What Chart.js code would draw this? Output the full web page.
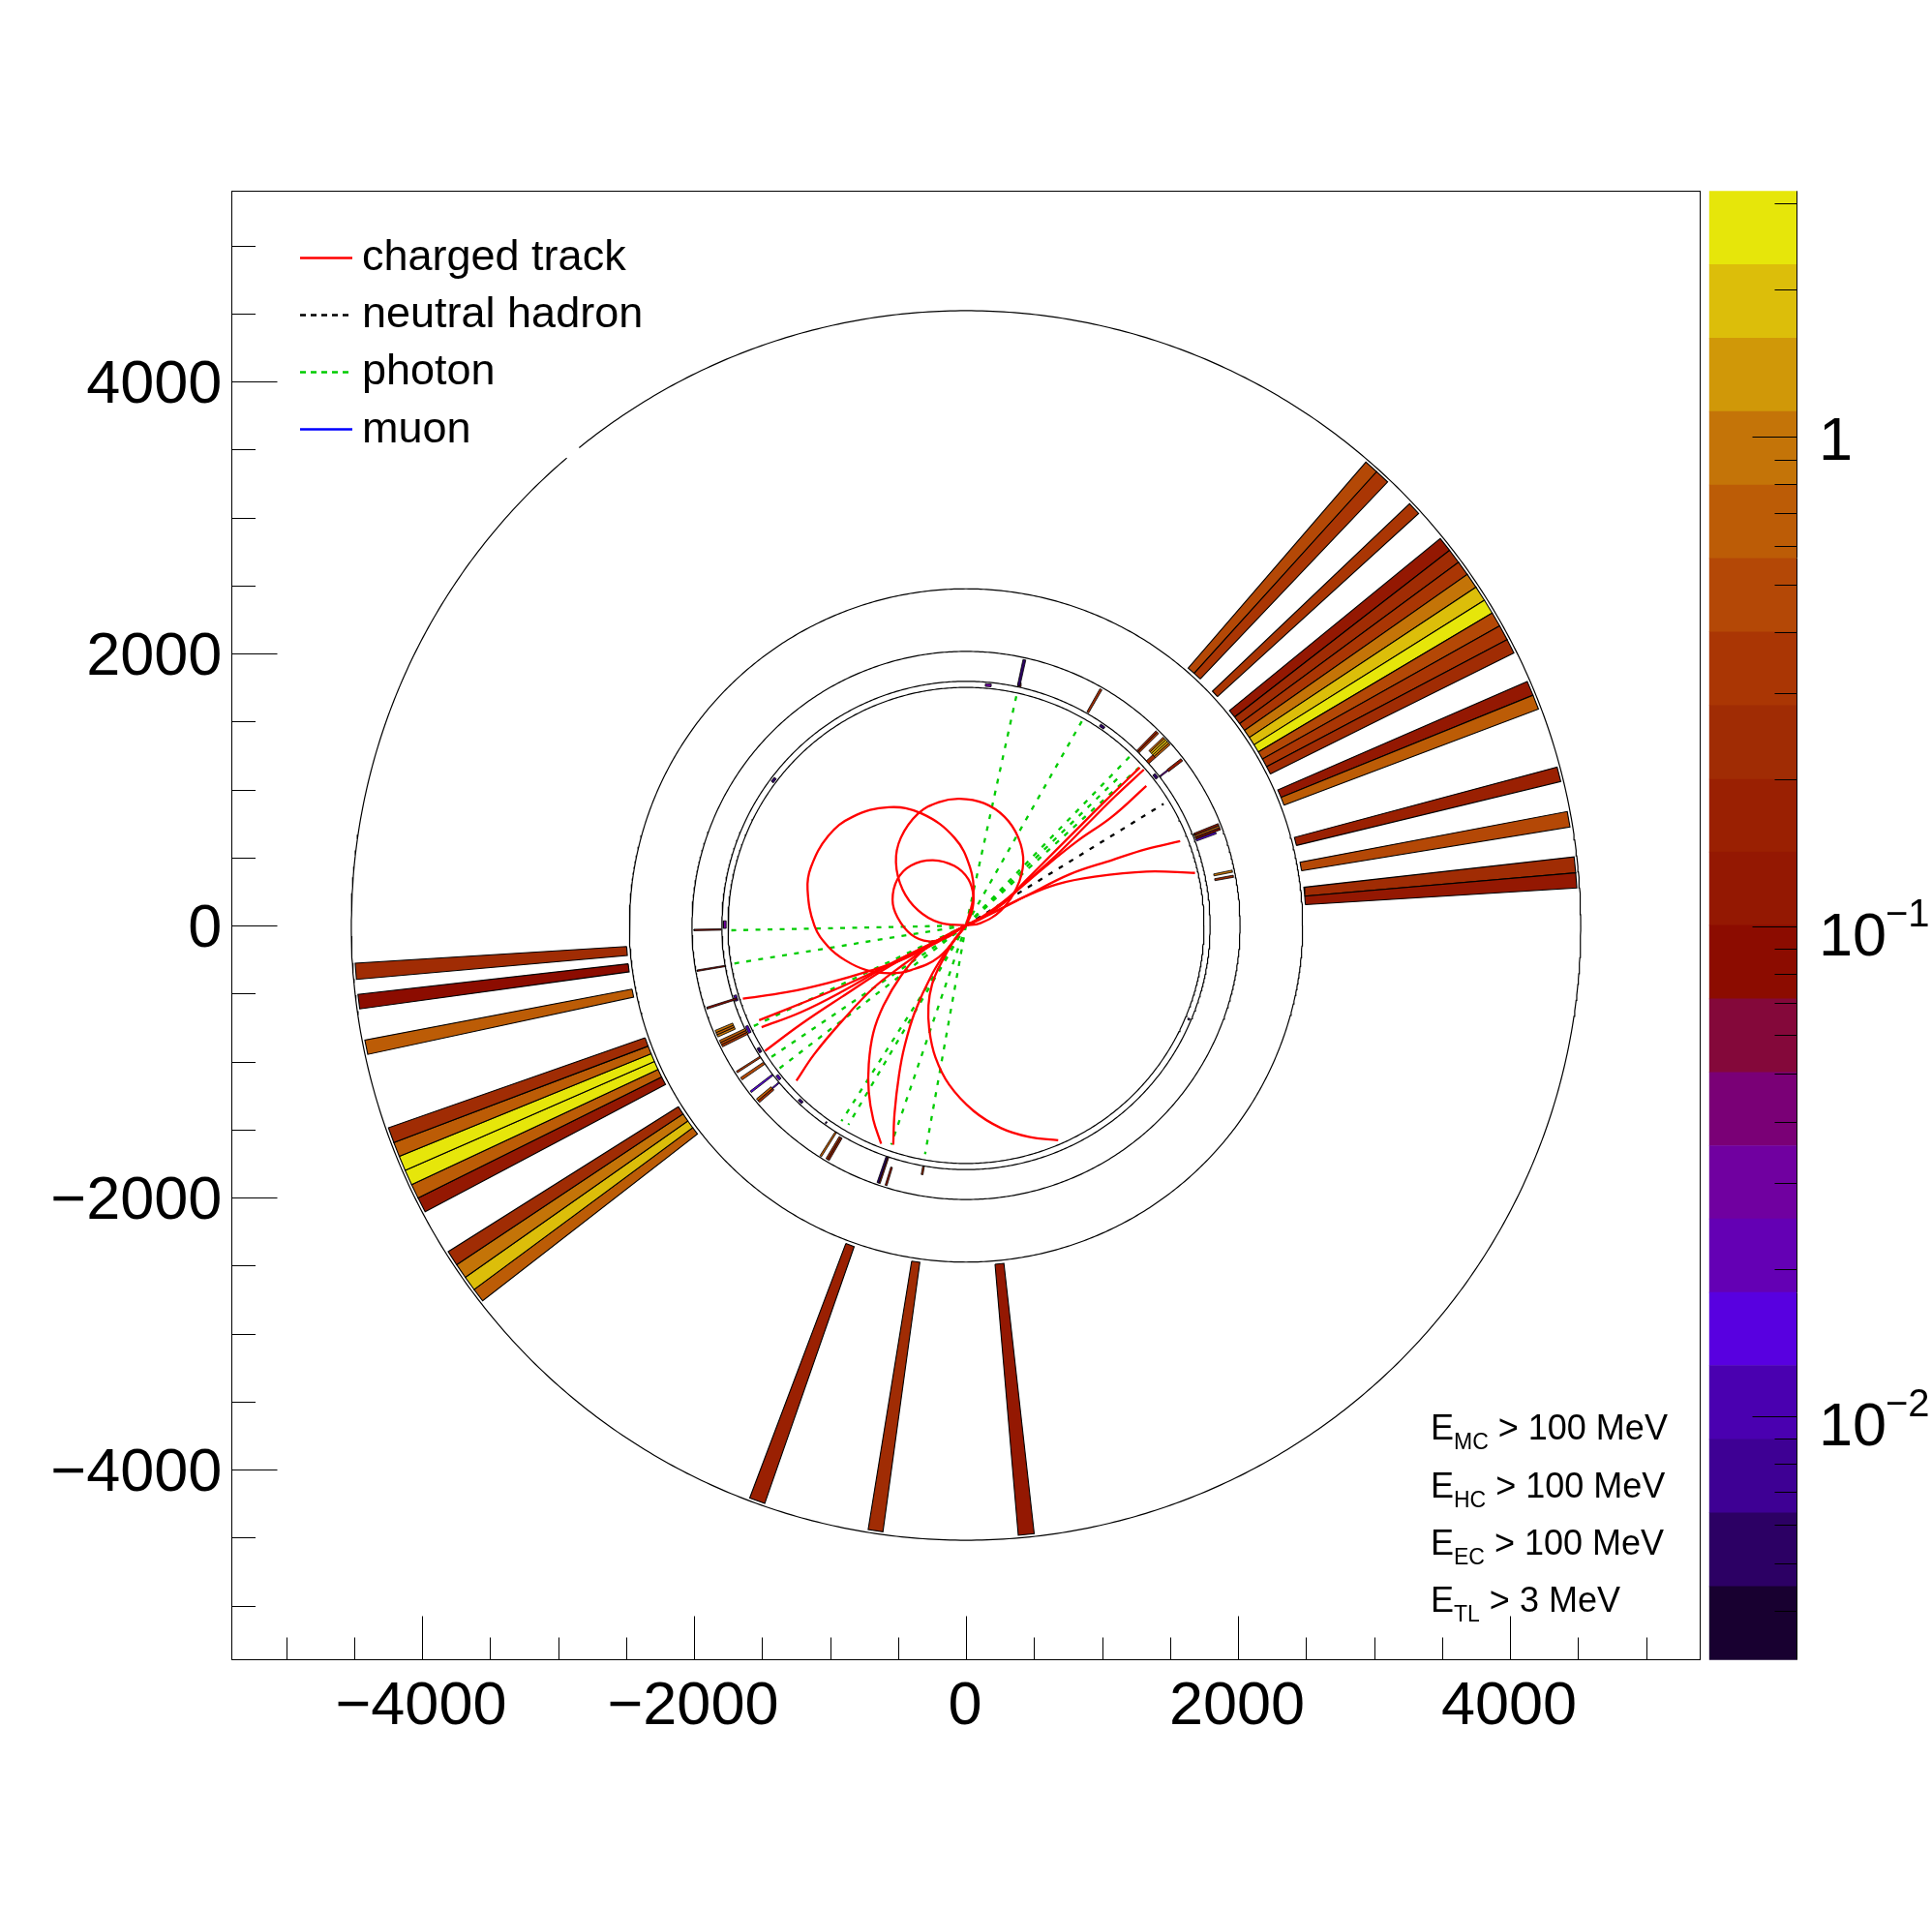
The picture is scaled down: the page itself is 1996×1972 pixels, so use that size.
<!DOCTYPE html>
<html>
<head>
<meta charset="utf-8">
<title>Event display</title>
<script src="https://cdn.jsdelivr.net/npm/chart.js@4"></script>
<style>
html,body{margin:0;padding:0;background:#fff}
#wrap{position:relative;width:1996px;height:1972px;overflow:hidden}
canvas{position:absolute;display:block}
</style>
</head>
<body>
<div id="wrap">
<canvas id="main" width="1996" height="1972" style="left:0;top:0;width:1996px;height:1972px"></canvas>
<canvas id="pal" width="256" height="1972" style="left:1740px;top:0;width:256px;height:1972px"></canvas>
</div>
<script>
// ---------- axis ----------
const axisMin = -5400, axisMax = 5400, labelStep = 2000;
const axisTicks = [-5000,-4500,-4000,-3500,-3000,-2500,-2000,-1500,-1000,-500,0,500,1000,1500,2000,2500,3000,3500,4000,4500,5000];

// ---------- detector rings (radius) ----------
const ringRadii = [1750, 1795, 2015, 2475];
const outerRingRadius = 4520;
const outerRingGapDeg = [129, 130.5];

// ---------- colour palette, low to high ----------
const zLevels = [0.00318,0.00449,0.00635,0.00897,0.0127,0.0179,0.0253,0.0357,0.0504,0.0712,0.1006,0.142,0.2,0.283,0.4,0.565,0.798,1.127,1.592,2.25,3.18];
const zColors = ['#180030','#2c0064','#3e0094','#4a00b0','#5800e0','#6400b4','#7000a0','#7a0076','#84083a','#8c0c00','#941802','#9a2002','#a02c04','#aa3604','#b44806','#bc5c06','#c47408','#d09808','#dcbe0a','#e6e60a'];
const zTicks = [3,2,1,0.9,0.8,0.7,0.6,0.5,0.4,0.3,0.2,0.1,0.09,0.08,0.07,0.06,0.05,0.04,0.03,0.02,0.01,0.009,0.008,0.007,0.006,0.005,0.004];
const zMajor = [1,0.1,0.01];

// ---------- HCAL cells: phi edges (deg) and energy ----------
const hcalRadius = [2500, 4500];
const hcalPhi = [
 [46.45,47.85,49.2],
 [42.3,43.55],
 [26.45,27.85,29.3,30.7,32.1,33.55,35.0,36.4,37.8,39.2],
 [20.7,22.1,23.5],
 [13.6,15.0],
 [9.26,10.73],
 [3.51,4.93,6.44],
 [183.54,185.06],
 [186.47,187.84],
 [190.79,192.16],
 [199.3,200.78,202.17,203.58,205.05,206.45,207.9],
 [212.2,213.66,215.1,216.5,217.83],
 [249.3,250.8],
 [260.8,262.2],
 [274.9,276.4]
];
const hcalE = [
 [0.335,0.475],
 [0.335],
 [0.24,0.335,0.475,2.7,1.9,0.95,0.335,0.24,0.12],
 [0.67,0.12],
 [0.17],
 [0.475],
 [0.12,0.24],
 [0.24],
 [0.085],
 [0.67],
 [0.24,0.67,2.7,2.7,0.67,0.12],
 [0.24,0.95,1.9,0.67],
 [0.17],
 [0.24],
 [0.12]
];

// ---------- ECAL cells: phi low, phi high, r in, r out, energy ----------
const ecalCells = [
 [77.3,77.9,1805,2000,0.0053],[77.2,77.8,1800,1830,0.17],
 [60.0,60.5,1805,2000,0.24],
 [44.9,45.3,1800,2000,0.335],[45.3,45.7,1800,2000,0.17],
 [41.5,42.4,1795,1860,0.24],
 [41.5,41.95,1860,2005,0.67],[41.95,42.4,1860,2005,1.35],[42.4,42.85,1860,2005,1.9],[42.85,43.3,1860,2005,1.35],[43.3,43.7,1860,2005,0.67],
 [37.4,37.7,1800,1870,0.03],[37.2,37.8,1870,2000,0.12],
 [21.6,22.0,1805,2000,0.12],[21.1,21.5,1805,2000,0.67],[20.6,21.0,1805,2000,0.085],[20.1,20.5,1805,1960,0.015],
 [11.3,11.75,1860,2000,0.95],[10.2,10.65,1860,2000,0.24],
 [180.8,181.1,1800,2000,0.085],
 [189.4,189.7,1795,2005,0.085],
 [197.5,197.9,1770,2000,0.1],
 [202.7,203.2,1860,2000,0.95],[203.2,203.7,1860,2000,0.67],[203.7,204.2,1860,2000,0.95],
 [205.0,205.5,1790,2000,0.67],[205.5,206.0,1790,2000,0.475],[206.0,206.5,1790,2000,0.335],
 [212.4,212.8,1795,2000,0.335],
 [214.0,214.6,1800,2000,0.475],
 [217.5,217.9,1800,2000,0.015],
 [219.6,220.1,1860,2000,0.67],[220.1,220.6,1860,2000,0.24],[219.9,220.2,1800,1860,0.015],
 [237.6,238.0,1800,2005,0.67],
 [239.0,239.4,1810,2000,0.24],[239.4,239.8,1810,2000,0.17],
 [250.9,251.3,1800,2000,0.0053],[251.3,251.6,1800,2000,0.17],
 [252.7,253.1,1860,2000,0.12],
 [259.8,260.2,1800,1860,0.24]
];

// ---------- tail catcher / tracker hits ----------
const tlCells = [
 [84.0,85.4,1764,1784,0.0253],
 [37.6,38.8,1762,1784,0.0053],
 [55.0,56.2,1762,1782,0.0053],
 [142.3,143.5,1762,1782,0.0053],
 [178.9,180.7,1764,1784,0.0253],
 [196.8,198.2,1764,1784,0.0107],
 [204.6,206.4,1764,1784,0.0107],
 [210.5,211.7,1764,1784,0.0053],
 [218.4,219.6,1764,1784,0.0107],
 [226.2,227.3,1764,1784,0.0053],
 [234.5,234.8,1770,1785,0.0053],
 [337.0,337.4,1770,1785,0.0053]
];

// ---------- charged tracks, read point by point ----------
const trackBigLoop = [[0,0],[55,226],[29,429],[-85,645],[-326,823],[-568,869],[-835,798],[-1013,658],[-1140,429],[-1165,264],[-1114,-3],[-1013,-156],[-886,-257],[-733,-328],[-555,-351],[-403,-328],[-199,-232],[-21,-28]];
const trackMidLoop = [[0,0],[-199,22],[-352,111],[-466,264],[-515,465],[-479,645],[-352,823],[-199,907],[-47,932],[131,899],[284,798],[385,645],[421,465],[373,277],[258,111],[106,17],[0,0]];
const trackSmallLoop = [[0,0],[42,99],[55,213],[17,340],[-85,437],[-243,480],[-403,442],[-504,340],[-540,188],[-504,60],[-403,-67],[-276,-117],[-148,-92],[-47,-28]];
const trackDownRight = [[0,0],[-85,-105],[-199,-308],[-250,-435],[-276,-588],[-270,-766],[-225,-969],[-123,-1172],[55,-1363],[258,-1490],[462,-1554],[678,-1579]];
const trackDownA = [[-624,-1605],[-682,-1427],[-715,-1223],[-715,-1020],[-682,-791],[-606,-588],[-479,-372],[-326,-194],[-148,-79],[0,0]];
const trackDownB = [[-535,-1612],[-525,-1376],[-492,-1096],[-453,-893],[-377,-639],[-250,-359],[-123,-156],[0,0]];
const trackLeftA = [[-1641,-539],[-1318,-491],[-1013,-422],[-708,-334],[-453,-245],[-199,-117],[0,0]];
const trackLeftB = [[-1521,-697],[-1216,-575],[-911,-448],[-581,-295],[-250,-130],[0,0]];
const trackLeftC = [[-1503,-748],[-1216,-639],[-911,-486],[-555,-283],[-250,-130],[0,0]];
const trackLeftD = [[-1478,-923],[-1216,-728],[-911,-524],[-555,-295],[-250,-135],[0,0]];
const trackLeftE = [[-1247,-1142],[-1114,-944],[-911,-702],[-682,-461],[-453,-283],[-199,-105],[0,0]];
const trackUpA = [[0,0],[258,149],[436,327],[640,531],[818,709],[1021,912],[1278,1161]];
const trackUpB = [[0,0],[55,22],[258,162],[436,315],[665,518],[894,747],[1097,950],[1308,1146]];
const trackUpC = [[0,0],[131,60],[309,200],[563,416],[818,620],[1072,798],[1326,1026]];
const trackRightA = [[0,0],[182,86],[436,213],[767,378],[1072,480],[1326,561],[1575,620]];
const trackRightB = [[0,0],[182,86],[436,213],[665,302],[945,358],[1326,396],[1684,386]];
const chargedTracks = [trackBigLoop,trackMidLoop,trackSmallLoop,trackDownRight,trackDownA,trackDownB,trackLeftA,trackLeftB,trackLeftC,trackLeftD,trackLeftE,trackUpA,trackUpB,trackUpC,trackRightA,trackRightB];

// ---------- neutral hadron and photon end points ----------
const neutralEnds = [[1453,894]];
const photonEnds = [[373,1700],[856,1509],[1211,1249],[1149,1114],[1270,1159],[-1750,-36],[-1724,-283],[-1572,-745],[-1445,-977],[-1381,-1058],[-916,-1439],[-865,-1465],[-550,-1612],[-301,-1681]];

// ---------- text ----------
const legendLabels = ['charged track','neutral hadron','photon','muon'];
const cutLabels = [['E','MC','> 100 MeV'],['E','HC','> 100 MeV'],['E','EC','> 100 MeV'],['E','TL','> 3 MeV']];
const FONT = '"Liberation Sans", Arial, sans-serif';

// ---------- helpers ----------
function colorOf(v){
  for(let i=0;i<zColors.length;i++){ if(v<zLevels[i+1]) return zColors[i]; }
  return zColors[zColors.length-1];
}
function pol(r,deg){ const a=deg*Math.PI/180; return {x:r*Math.cos(a),y:r*Math.sin(a)}; }
function cellSet(p1,p2,r1,r2,v,w){
  return {data:[pol(r1,p1),pol(r2,p1),pol(r2,p2),pol(r1,p2),pol(r1,p1)],
    borderColor:'#000',borderWidth:w,backgroundColor:colorOf(v),fill:'shape',
    pointRadius:0,tension:0,order:3};
}
function ringSet(r,gap){
  const pts=[];
  for(let d=0;d<=360;d+=0.5){
    if(gap && d>gap[0] && d<gap[1]){ pts.push({x:null,y:null}); continue; }
    pts.push(pol(r,d));
  }
  return {data:pts,borderColor:'#000',borderWidth:1.2,pointRadius:0,tension:0,fill:false,spanGaps:false,order:4};
}
function toPts(a){ return a.map(p=>({x:p[0],y:p[1]})); }

const datasets=[];
ringRadii.forEach(r=>datasets.push(ringSet(r)));
datasets.push(ringSet(outerRingRadius,outerRingGapDeg));
hcalPhi.forEach((edges,g)=>{
  hcalE[g].forEach((v,i)=>datasets.push(cellSet(edges[i],edges[i+1],hcalRadius[0],hcalRadius[1],v,1.1)));
});
ecalCells.forEach(c=>datasets.push(cellSet(c[0],c[1],c[2],c[3],c[4],0.8)));
tlCells.forEach(c=>datasets.push(cellSet(c[0],c[1],c[2],c[3],c[4],0.8)));
photonEnds.forEach(e=>datasets.push({data:[{x:0,y:0},{x:e[0],y:e[1]}],borderColor:'#00cc00',borderWidth:2.3,borderDash:[5,7.5],pointRadius:0,tension:0,fill:false,order:2}));
neutralEnds.forEach(e=>datasets.push({data:[{x:0,y:0},{x:e[0],y:e[1]}],borderColor:'#000',borderWidth:2.3,borderDash:[5,7.5],pointRadius:0,tension:0,fill:false,order:2}));
chargedTracks.forEach(t=>datasets.push({data:toPts(t),borderColor:'#ff0000',borderWidth:2.3,pointRadius:0,tension:0.4,fill:false,order:1}));

// ---------- main chart decoration ----------
const decor={
  id:'decor',
  afterDatasetsDraw(chart){
    const c=chart.ctx,{left,right,top,bottom}=chart.chartArea,sx=chart.scales.x,sy=chart.scales.y;
    c.save();
    c.strokeStyle='#000';c.lineWidth=1;
    const L=Math.round(left)+0.5,R=Math.floor(right)+0.5,T=Math.round(top)+0.5,B=Math.floor(bottom)+0.5;
    c.strokeRect(L,T,R-L,B-T);
    c.beginPath();
    axisTicks.forEach(v=>{
      const major=(v%labelStep===0);
      const p=Math.round(sx.getPixelForValue(v))+0.5;
      c.moveTo(p,B);c.lineTo(p,B-(major?45:23));
      const q=Math.round(sy.getPixelForValue(v))+0.5;
      c.moveTo(L,q);c.lineTo(L+(major?47:24.5),q);
    });
    c.stroke();
    // legend
    const legendY=[266.5,325.5,384.5,443.5],baseY=[278.5,337.5,396.5,457];
    const legendCol=['#ff0000','#000','#00cc00','#0000ff'],legendDash=[[],[6,5],[6,5],[]];
    legendLabels.forEach((s,i)=>{
      c.beginPath();c.lineWidth=2.5;c.strokeStyle=legendCol[i];c.setLineDash(legendDash[i]);
      c.moveTo(310,legendY[i]);c.lineTo(364,legendY[i]);c.stroke();
      c.setLineDash([]);
      c.fillStyle='#000';c.font='45px '+FONT;c.textAlign='left';c.textBaseline='alphabetic';
      c.fillText(s,374,baseY[i]);
    });
    // energy cuts
    const cutY=[1487,1547,1606,1665];
    cutLabels.forEach((t,i)=>{
      let x=1478;
      c.font='36px '+FONT;c.fillText(t[0],x,cutY[i]);x+=c.measureText(t[0]).width;
      c.font='23px '+FONT;c.fillText(t[1],x,cutY[i]+10);x+=c.measureText(t[1]).width;
      c.font='36px '+FONT;c.fillText(' '+t[2],x,cutY[i]);
    });
    c.restore();
  }
};
function fixTicks(s){ s.ticks = axisTicks.map(v=>({value:v})); }
function tickText(v){ return (v%labelStep===0)?String(v).replace('-','\u2212'):''; }

new Chart(document.getElementById('main'),{
  type:'line',
  data:{datasets},
  plugins:[decor],
  options:{
    responsive:false,devicePixelRatio:1,animation:false,events:[],
    layout:{padding:{top:197.3,right:239.3,left:0,bottom:0}},
    plugins:{legend:{display:false},tooltip:{enabled:false},title:{display:false}},
    scales:{
      x:{type:'linear',min:axisMin,max:axisMax,
        grid:{display:false},border:{display:false},
        afterBuildTicks:fixTicks,
        afterFit(s){s.height=257.3;},
        ticks:{autoSkip:false,maxRotation:0,minRotation:0,padding:3,labelOffset:-1,color:'#000',
          font:{family:'Liberation Sans',size:63},callback:tickText}},
      y:{type:'linear',min:axisMin,max:axisMax,
        grid:{display:false},border:{display:false},
        afterBuildTicks:fixTicks,
        afterFit(s){s.width=239.3;},
        ticks:{autoSkip:false,padding:2,labelOffset:5,color:'#000',
          font:{family:'Liberation Sans',size:63},callback:tickText}}
    }
  }
});

// ---------- palette ----------
const palDecor={
  id:'palDecor',
  afterDatasetsDraw(chart){
    const c=chart.ctx,{left,right,top,bottom}=chart.chartArea,sy=chart.scales.y;
    c.save();
    c.strokeStyle='#000';c.lineWidth=1;
    const rx=Math.round(right)+0.5;
    c.beginPath();c.moveTo(rx,top);c.lineTo(rx,bottom);
    zTicks.forEach(v=>{
      const p=Math.round(sy.getPixelForValue(v))+0.5,len=zMajor.includes(v)?46:23;
      c.moveTo(rx,p);c.lineTo(rx-len,p);
    });
    c.stroke();
    c.fillStyle='#000';c.textAlign='left';c.textBaseline='alphabetic';
    const x=139;
    c.font='63px '+FONT;c.fillText('1',x,sy.getPixelForValue(1)+24);
    [[0.1,'\u22121'],[0.01,'\u22122']].forEach(e=>{
      const p=sy.getPixelForValue(e[0]);
      c.font='63px '+FONT;c.fillText('10',x,p+30);
      c.font='40px '+FONT;c.fillText(e[1],x+69,p);
    });
    c.restore();
  }
};
new Chart(document.getElementById('pal'),{
  type:'bar',
  data:{labels:['z'],datasets:zColors.map((col,i)=>({data:[[zLevels[i],zLevels[i+1]]],backgroundColor:col,borderWidth:0,barPercentage:1,categoryPercentage:1}))},
  plugins:[palDecor],
  options:{
    responsive:false,devicePixelRatio:1,animation:false,events:[],
    layout:{padding:{top:197.3,bottom:257.3,left:25.7,right:140}},
    plugins:{legend:{display:false},tooltip:{enabled:false}},
    scales:{
      x:{display:false,stacked:true},
      y:{display:false,type:'logarithmic',min:zLevels[0],max:zLevels[zLevels.length-1]}
    }
  }
});
</script>
</body>
</html>
